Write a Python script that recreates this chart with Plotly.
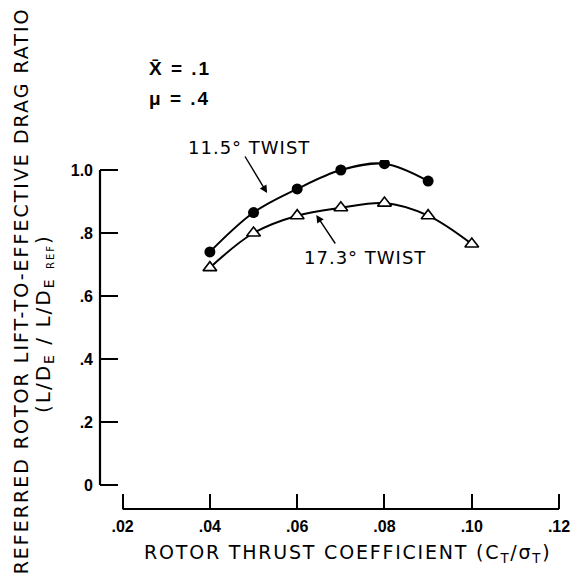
import plotly.graph_objects as go

# Data
x_115 = [0.04, 0.05, 0.06, 0.07, 0.08, 0.09]
y_115 = [0.74, 0.865, 0.94, 1.0, 1.02, 0.965]
x_173 = [0.04, 0.05, 0.06, 0.07, 0.08, 0.09, 0.10]
y_173 = [0.69, 0.80, 0.855, 0.88, 0.895, 0.855, 0.765]
x_ticks = [0.02, 0.04, 0.06, 0.08, 0.10, 0.12]
x_ticktext = [".02", ".04", ".06", ".08", ".10", ".12"]
y_ticks = [0, 0.2, 0.4, 0.6, 0.8, 1.0]
y_ticktext = ["0", ".2", ".4", ".6", ".8", "1.0"]

W, H = 578, 579
L, R, T, B = 100, 8, 160, 70
pw, ph = W - L - R, H - T - B
FONT = "Liberation Sans, Arial, sans-serif"
TFONT = "DejaVu Sans, sans-serif"

def px(xp):
    return (xp - L) / pw

def py(yp):
    return (H - B - yp) / ph

def sp(text, s):
    return "<span style='letter-spacing:%spx'>%s</span>" % (s, text)

fig = go.Figure()
fig.add_trace(go.Scatter(x=x_115, y=y_115, mode="lines+markers",
                         line=dict(color="black", width=2, shape="spline", smoothing=1.0),
                         marker=dict(symbol="circle", size=11, color="black"),
                         showlegend=False))
fig.add_trace(go.Scatter(x=x_173, y=y_173, mode="lines+markers",
                         line=dict(color="black", width=2, shape="spline", smoothing=1.0),
                         marker=dict(symbol="triangle-up", size=12, color="white",
                                     line=dict(color="black", width=1.6)),
                         showlegend=False))

# axis lines
fig.add_shape(type="line", xref="paper", yref="y", x0=0, x1=0, y0=0, y1=1.0,
              line=dict(color="black", width=2.2))
fig.add_shape(type="line", xref="x", yref="paper", x0=0.02, x1=0.12, y0=0, y1=0,
              line=dict(color="black", width=2.2))

ann = []
tf = dict(family=TFONT, size=19, color="black")
ann.append(dict(xref="paper", yref="paper", x=px(20), y=py(291),
                text=sp("REFERRED ROTOR LIFT-TO-EFFECTIVE DRAG RATIO", 2),
                textangle=-90, showarrow=False, font=tf, xanchor="center", yanchor="middle"))
ann.append(dict(xref="paper", yref="paper", x=px(43), y=py(323),
                text=sp("(L/D<sub>E</sub> / L/D<sub>E</sub> <sub><span style='font-size:10px'>REF</span></sub>)", 2),
                textangle=-90, showarrow=False, font=dict(family=TFONT, size=20, color="black"),
                xanchor="center", yanchor="middle"))
ann.append(dict(xref="paper", yref="paper", x=px(352), y=py(553),
                text=sp("ROTOR THRUST COEFFICIENT (C<sub>T</sub>/σ<sub>T</sub>)", 1.8),
                showarrow=False, font=tf, xanchor="center", yanchor="middle"))
ann.append(dict(xref="paper", yref="paper", x=px(148), y=py(68), text="<b>" + sp("X̄ = .1", 2) + "</b>",
                showarrow=False, font=dict(family=FONT, size=19, color="black"), xanchor="left", yanchor="middle"))
ann.append(dict(xref="paper", yref="paper", x=px(148), y=py(99), text="<b>" + sp("μ = .4", 2) + "</b>",
                showarrow=False, font=dict(family=FONT, size=19, color="black"), xanchor="left", yanchor="middle"))
ann.append(dict(xref="paper", yref="paper", x=px(252), y=py(147), text=sp("11.5° TWIST", 1),
                showarrow=False, font=dict(family=TFONT, size=18, color="black"), xanchor="center", yanchor="middle"))
ann.append(dict(xref="paper", yref="paper", x=px(370), y=py(257), text=sp("17.3° TWIST", 1),
                showarrow=False, font=dict(family=TFONT, size=18, color="black"), xanchor="center", yanchor="middle"))
ann.append(dict(xref="paper", yref="paper", x=px(270), y=py(193), ax=-23, ay=-38, text="",
                showarrow=True, arrowhead=2, arrowsize=1.1, arrowwidth=1.4, arrowcolor="black"))
ann.append(dict(xref="paper", yref="paper", x=px(320), y=py(215), ax=20, ay=30, text="",
                showarrow=True, arrowhead=2, arrowsize=1.1, arrowwidth=1.4, arrowcolor="black"))

xr0 = 0.02 - (123 - L) / 4440
xr1 = xr0 + pw / 4440
yr0 = (485 - (H - B)) / 315
yr1 = yr0 + ph / 315

fig.update_layout(
    width=W, height=H, margin=dict(l=L, r=R, t=T, b=B),
    paper_bgcolor="white", plot_bgcolor="white",
    annotations=ann,
    xaxis=dict(range=[xr0, xr1], showgrid=False, zeroline=False, showline=False,
               tickvals=x_ticks, ticktext=x_ticktext, ticks="inside", ticklen=15, tickwidth=2,
               tickcolor="black", ticklabelstandoff=6, ticklabeloverflow="allow",
               tickfont=dict(family=FONT, size=16, color="black", weight="bold")),
    yaxis=dict(range=[yr0, yr1], showgrid=False, zeroline=False, showline=False,
               tickvals=y_ticks, ticktext=y_ticktext, ticks="inside", ticklen=18, tickwidth=2,
               tickcolor="black", ticklabelstandoff=6,
               tickfont=dict(family=FONT, size=16, color="black", weight="bold")),
)
fig.write_html("out.html")
